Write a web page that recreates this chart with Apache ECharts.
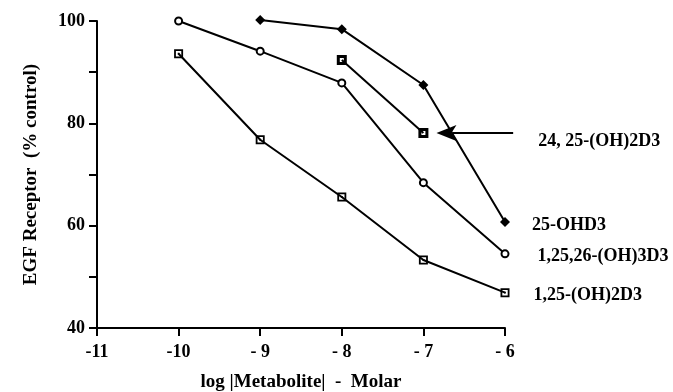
<!DOCTYPE html>
<html>
<head>
    <meta charset="utf-8">
    <title>EGF Receptor vs Metabolite</title>
    <script src="https://cdn.jsdelivr.net/npm/echarts@6/dist/echarts.min.js"></script>
    <style>
        html, body { margin: 0; padding: 0; background: #fff; }
    </style>
</head>
<body>
<div id="main" style="width: 673px;height:392px;"></div>
<script>
    // x = log [metabolite] (M), y = EGF receptor (% control)
    var xOHD3 = [-9, -8, -7, -6];
    var yOHD3 = [100.2, 98.4, 87.5, 60.7];
    var xTri = [-10, -9, -8, -7, -6];
    var yTri = [100, 94.1, 87.9, 68.4, 54.5];
    var x2425 = [-8, -7];
    var y2425 = [92.4, 78.1];
    var x125 = [-10, -9, -8, -7, -6];
    var y125 = [93.6, 76.8, 65.6, 53.3, 46.9];

    var names = ['25-OHD3', '1,25,26-(OH)3D3', '24, 25-(OH)2D3', '1,25-(OH)2D3'];
    var yTicks = [40, 60, 80, 100];
    // 箭头的起点和终点 (数据坐标)
    var arrowFrom = [-5.9, 78.1];
    var arrowTo = [-6.84, 78.1];

    var font = '"Liberation Serif", "DejaVu Serif", serif';

    // 把 x / y 数组拼成点，最后一个点加文字标签
    function pts(xs, ys, label, dist) {
        return xs.map(function (x, i) {
            var p = { value: [x, ys[i]] };
            if (label && i === xs.length - 1) {
                p.label = {
                    show: true, position: 'right', distance: dist, offset: [0, 3],
                    formatter: label, color: '#000', fontFamily: font,
                    fontWeight: 'bold', fontSize: 18
                };
            }
            return p;
        });
    }

    var sqDot = 'path://M0 0H10V10H0Z M2 2V8H8V2Z M4 4H6V6H4Z';
    var sqBold = 'path://M0 0H10V10H0Z M3 3V7H7V3Z';

    var myChart = echarts.init(document.getElementById('main'));
    var option = {
        animation: false,
        grid: { left: 97, right: 168, top: 21, bottom: 64, outerBoundsMode: 'none', containLabel: false },
        xAxis: {
            type: 'value', min: -11, max: -6, interval: 1,
            name: 'log |Metabolite|  -  Molar', nameLocation: 'middle', nameGap: 45,
            nameTextStyle: { color: '#000', fontFamily: font, fontWeight: 'bold', fontSize: 19 },
            axisLine: { lineStyle: { color: '#000', width: 2 } },
            axisTick: { length: 8, lineStyle: { color: '#000', width: 2 } },
            axisLabel: {
                color: '#000', fontFamily: font, fontWeight: 'bold', fontSize: 18, margin: 15,
                formatter: function (v) { return Math.abs(v) >= 10 ? '-' + Math.abs(v) : '- ' + Math.abs(v); }
            },
            splitLine: { show: false }
        },
        yAxis: {
            type: 'value', min: 40, max: 100, interval: 10,
            name: 'EGF Receptor  (% control)', nameLocation: 'middle', nameGap: 56,
            nameTextStyle: { color: '#000', fontFamily: font, fontWeight: 'bold', fontSize: 19 },
            axisLine: { show: true, lineStyle: { color: '#000', width: 2 } },
            axisTick: { length: 8, lineStyle: { color: '#000', width: 2 } },
            axisLabel: {
                color: '#000', fontFamily: font, fontWeight: 'bold', fontSize: 18, margin: 12,
                formatter: function (v) { return yTicks.indexOf(v) >= 0 ? String(v) : ''; }
            },
            splitLine: { show: false }
        },
        series: [
            {
                name: names[0], type: 'line', clip: false,
                data: pts(xOHD3, yOHD3, names[0], 22),
                symbol: 'diamond', symbolSize: 10,
                lineStyle: { color: '#000', width: 2 },
                itemStyle: { color: '#000' }
            },
            {
                name: names[1], type: 'line', clip: false,
                data: pts(xTri, yTri, names[1], 28),
                symbol: 'circle', symbolSize: 7,
                lineStyle: { color: '#000', width: 2 },
                itemStyle: { color: '#fff', borderColor: '#000', borderWidth: 2 }
            },
            {
                name: names[2], type: 'line', clip: false,
                data: pts(x2425, y2425),
                symbol: sqBold, symbolSize: 10,
                lineStyle: { color: '#000', width: 2 },
                itemStyle: { color: '#000' }
            },
            {
                name: names[3], type: 'line', clip: false,
                data: pts(x125, y125, names[3], 24),
                symbol: sqDot, symbolSize: 9,
                lineStyle: { color: '#000', width: 2 },
                itemStyle: { color: '#000' }
            }
        ]
    };
    myChart.setOption(option);

    // 箭头和 24,25 的说明文字，用坐标换算放到图上
    var p0 = myChart.convertToPixel({ gridIndex: 0 }, arrowFrom);
    var p1 = myChart.convertToPixel({ gridIndex: 0 }, arrowTo);
    var headLen = 20, headW = 8;
    myChart.setOption({
        graphic: [
            {
                type: 'line', silent: true,
                shape: { x1: p0[0], y1: p0[1], x2: p1[0] + headLen - 4, y2: p1[1] },
                style: { stroke: '#000', lineWidth: 2 }
            },
            {
                type: 'polygon', silent: true,
                shape: { points: [[p1[0], p1[1]], [p1[0] + headLen, p1[1] - headW], [p1[0] + headLen - 5, p1[1]], [p1[0] + headLen, p1[1] + headW]] },
                style: { fill: '#000' }
            },
            {
                type: 'text', silent: true,
                x: p0[0] + 25, y: p0[1] + 8,
                style: {
                    text: names[2], fill: '#000', font: 'bold 18px ' + font,
                    verticalAlign: 'middle', align: 'left'
                }
            }
        ]
    });
</script>
</body>
</html>
